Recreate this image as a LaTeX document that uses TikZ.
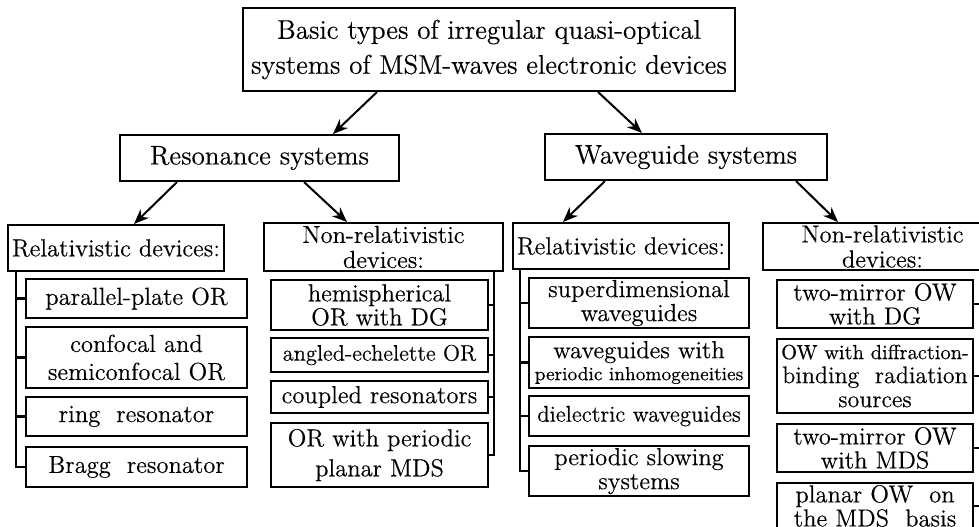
\documentclass[tikz,border=0pt]{standalone}
\usepackage{fontspec}
\setmainfont{Latin Modern Roman}[FakeBold=0.35]
\usetikzlibrary{positioning, arrows.meta}
\tikzstyle{topBox} = [rectangle, draw, line width=1pt, align=center, inner xsep=1pt, font=\fontsize{13.5}{17.5}\selectfont, minimum width=246pt, minimum height=41.5pt]
\tikzstyle{sysBox} = [rectangle, draw, line width=1pt, font=\fontsize{13.5}{16}\selectfont, minimum height=23pt]
\tikzstyle{devBox} = [rectangle, draw, line width=1pt, align=center, inner sep=1pt, font=\fontsize{12.3}{12.5}\selectfont]
\tikzstyle{itemBox} = [rectangle, draw, line width=1pt, align=center, inner sep=1pt, font=\fontsize{12.3}{12}\selectfont]
\tikzstyle{branch} = [line width=1.2pt]
\tikzstyle{link} = [line width=1pt, -{Stealth[length=7.5pt,width=6pt]}]

\begin{document}
\begin{tikzpicture}[x=0.5pt, y=-0.5pt]
		\useasboundingbox (0,0) rectangle (979,526);
		\clip (0,0) rectangle (979,526);
		
		\node [topBox](top) at (489,49.5) {Basic types of irregular quasi-optical\\systems of MSM-waves electronic devices};
		\node [sysBox,minimum width=139.5pt](res) at (259.5,158) {Resonance systems};
		\node [sysBox,minimum width=141pt](wave) at (686,157) {Waveguide systems};
		
		% device groups
		\node [devBox,minimum width=108pt,minimum height=23pt](rel1) at (116,248) {Relativistic devices:};
		\node [devBox,minimum width=119.5pt,minimum height=24pt](non1) at (383.5,247) {Non-relativistic\\devices:};
		\node [devBox,minimum width=108pt,minimum height=23pt](rel2) at (621,246) {Relativistic devices:};
		\node [devBox,minimum width=119.5pt,minimum height=23.5pt](non2) at (882.5,246.5) {Non-relativistic\\devices:};
		
		% resonators
		\node [itemBox,minimum width=110.5pt,minimum height=19.5pt](a1) at (136.5,298.5) {parallel-plate OR};
		\node [itemBox,minimum width=110.5pt,minimum height=30.5pt,font=\fontsize{12.3}{14}\selectfont,below=3.5pt of a1](a2) {confocal and\\semiconfocal OR};
		\node [itemBox,minimum width=110.5pt,minimum height=19.5pt,below=3.5pt of a2](a3) {ring~~resonator};
		\node [itemBox,minimum width=110.5pt,minimum height=20pt,below=4.5pt of a3](a4) {Bragg~~resonator};
		
		\node [itemBox,minimum width=108.5pt,minimum height=25pt](b1) at (379.5,305) {hemispherical\\OR with DG};
		\node [itemBox,minimum width=108.5pt,minimum height=17pt,font=\fontsize{11.2}{12}\selectfont,below=3pt of b1](b2) {angled-echelette OR};
		\node [itemBox,minimum width=108.5pt,minimum height=16pt,below=3.5pt of b2](b3) {coupled resonators};
		\node [itemBox,minimum width=108.5pt,minimum height=32pt,font=\fontsize{12.3}{15}\selectfont,below=4pt of b3](b4) {OR with periodic\\planar MDS};
		
		% waveguides
		\node [itemBox,minimum width=110pt,minimum height=24pt](c1) at (639,303) {superdimensional\\waveguides};
		\node [itemBox,minimum width=110pt,minimum height=25.5pt,font=\fontsize{12.3}{11}\selectfont,below=3.5pt of c1](c2) {waveguides with\\{\fontsize{9.4}{11}\selectfont periodic inhomogeneities}};
		\node [itemBox,minimum width=110pt,minimum height=20pt,font=\fontsize{11.4}{12}\selectfont,below=3pt of c2](c3) {dielectric waveguides};
		\node [itemBox,minimum width=110pt,minimum height=24pt,below=4pt of c3](c4) {periodic slowing\\systems};
		
		\node [itemBox,minimum width=98pt,minimum height=24pt](d1) at (875,304) {two-mirror OW\\with DG};
		\node [itemBox,minimum width=98pt,minimum height=37pt,font=\fontsize{12}{12}\selectfont,below=4.5pt of d1](d2) {{\fontsize{10.2}{12}\selectfont OW with diffraction-}\\binding~~radiation\\sources};
		\node [itemBox,minimum width=98pt,minimum height=24pt,below=4.5pt of d2](d3) {two-mirror OW\\with MDS};
		\node [itemBox,minimum width=98pt,minimum height=23pt,font=\fontsize{12.3}{10.5}\selectfont,below=4.5pt of d3](d4) {planar OW~~on\\the MDS~~basis};
		
		% tree lines
		\coordinate (t1) at ([xshift=4.5pt]rel1.south west);
		\coordinate (t2) at ([xshift=-5pt]non1.south east);
		\coordinate (t3) at ([xshift=4pt]rel2.south west);
		\coordinate (t4) at ([xshift=-8pt]non2.south east);
		\draw [branch] (t1) |- (a1.west) (t1) |- (a2.west) (t1) |- (a3.west) (t1) |- (a4.west);
		\draw [branch] (t2) |- (b1.east) (t2) |- (b2.east) (t2) |- (b3.east) (t2) |- (b4.east);
		\draw [branch] (t3) |- (c1.west) (t3) |- (c2.west) (t3) |- (c3.west) (t3) |- (c4.west);
		\draw [branch] (t4) |- (d1.east) (t4) |- (d2.east) (t4) |- (d3.east) (t4) |- (d4.east);
		
		% arrows
		\draw [link] ([xshift=-56pt]top.south) -- ([xshift=36.75pt]res.north);
		\draw [link] ([xshift=54.5pt]top.south) -- ([xshift=-22pt]wave.north);
		\draw [link] ([xshift=-41.25pt]res.south) -- ([xshift=9pt]rel1.north);
		\draw [link] ([xshift=22.25pt]res.south) -- ([xshift=-18.25pt]non1.north);
		\draw [link] ([xshift=-40.5pt]wave.south) -- ([xshift=-29pt]rel2.north);
		\draw [link] ([xshift=55pt]wave.south) -- ([xshift=-22.25pt]non2.north);
		
		\end{tikzpicture}
\end{document}
